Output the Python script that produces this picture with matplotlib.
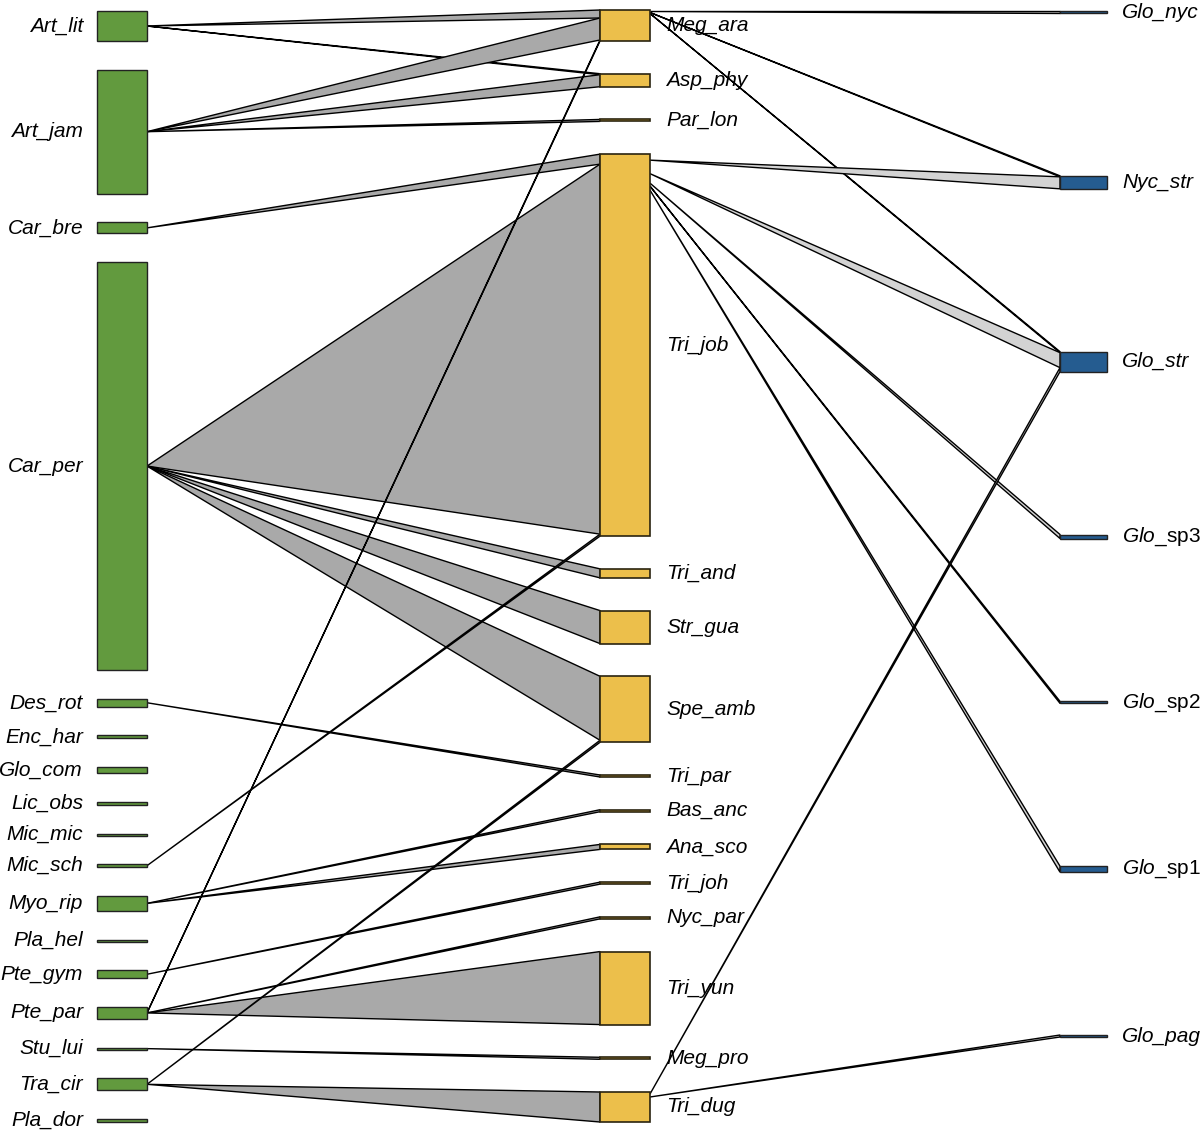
import matplotlib
matplotlib.use("Agg")

import matplotlib.pyplot as plt
import numpy as np
from matplotlib.patches import Polygon, Rectangle

# --- Fonts ---
plt.rcParams['font.family'] = ['Liberation Sans', 'DejaVu Sans']
plt.rcParams['mathtext.fontset'] = 'custom'
plt.rcParams['mathtext.rm'] = 'Liberation Sans'
plt.rcParams['mathtext.it'] = 'Liberation Sans:italic'
FS_LABEL = 15

# --- Data ---
# lower level (plants), abundance
low_names = ['Art_lit', 'Art_jam', 'Car_bre', 'Car_per', 'Des_rot', 'Enc_har',
             'Glo_com', 'Lic_obs', 'Mic_mic', 'Mic_sch', 'Myo_rip', 'Pla_hel',
             'Pte_gym', 'Pte_par', 'Stu_lui', 'Tra_cir', 'Pla_dor']
low_abun = [30, 124, 11, 408, 8, 3, 6, 3, 2, 3, 15, 2, 8, 12, 2, 12, 3]

# middle level
mid_names = ['Meg_ara', 'Asp_phy', 'Par_lon', 'Tri_job', 'Tri_and', 'Str_gua',
             'Spe_amb', 'Tri_par', 'Bas_anc', 'Ana_sco', 'Tri_joh', 'Nyc_par',
             'Tri_yun', 'Meg_pro', 'Tri_dug']

# upper level
top_names = ['Glo_nyc', 'Nyc_str', 'Glo_str', 'Glo_sp3', 'Glo_sp2', 'Glo_sp1', 'Glo_pag']
top_labels = ['Glo_nyc', 'Nyc_str', 'Glo_str',
              r'$\mathit{Glo}$_sp3', r'$\mathit{Glo}$_sp2', r'$\mathit{Glo}$_sp1', 'Glo_pag']
top_italic = [True, True, True, False, False, False, True]

# lower -> middle interactions
lm_src = ['Art_lit', 'Art_lit', 'Art_jam', 'Art_jam', 'Art_jam', 'Car_bre',
          'Car_per', 'Car_per', 'Car_per', 'Car_per', 'Des_rot', 'Mic_sch',
          'Myo_rip', 'Myo_rip', 'Pte_gym', 'Pte_par', 'Pte_par', 'Pte_par',
          'Stu_lui', 'Tra_cir', 'Tra_cir']
lm_dst = ['Meg_ara', 'Asp_phy', 'Meg_ara', 'Asp_phy', 'Par_lon', 'Tri_job',
          'Tri_job', 'Tri_and', 'Str_gua', 'Spe_amb', 'Tri_par', 'Tri_job',
          'Bas_anc', 'Ana_sco', 'Tri_joh', 'Meg_ara', 'Nyc_par', 'Tri_yun',
          'Meg_pro', 'Spe_amb', 'Tri_dug']
lm_w = [8, 1, 22, 12, 2, 10, 370, 9, 33, 64, 2, 2, 2, 5, 2, 1, 2, 73, 2, 2, 30]

# middle -> upper interactions
mt_src = ['Meg_ara', 'Meg_ara', 'Meg_ara', 'Tri_job', 'Tri_job', 'Tri_job',
          'Tri_job', 'Tri_job', 'Tri_dug', 'Tri_dug']
mt_dst = ['Glo_nyc', 'Nyc_str', 'Glo_str', 'Nyc_str', 'Glo_str', 'Glo_sp3',
          'Glo_sp2', 'Glo_sp1', 'Glo_str', 'Glo_pag']
mt_w = [2, 1, 1, 12, 15, 4, 2, 6, 4, 2]

# --- Colours / layout ---
C_LOW = '#629a3e'
C_MID = '#ecbf4b'
C_TOP = '#255c90'
C_LINK_LOW = '#a9a9a9'
C_LINK_TOP = '#d3d3d3'

X_LOW, X_MID, X_TOP = 97, 600, 1060
BOX_W = 50


def totals(names, dst, w):
    out = dict.fromkeys(names, 0.0)
    for d, v in zip(dst, w):
        out[d] += v
    return [out[n] for n in names]


def stack(sizes, top, bottom):
    sizes = np.asarray(sizes, float)
    gap = (bottom - top - sizes.sum()) / (len(sizes) - 1)
    return top + np.concatenate([[0], np.cumsum(sizes[:-1] + gap)])


mid_abun = totals(mid_names, lm_dst, lm_w)
top_abun = totals(top_names, mt_dst, mt_w)

low_y = dict(zip(low_names, stack(low_abun, 11, 1122)))
mid_y = dict(zip(mid_names, stack(mid_abun, 10, 1122)))
top_y = dict(zip(top_names, stack(top_abun, 11, 1037)))
low_h = dict(zip(low_names, low_abun))

fig = plt.figure(figsize=(12, 11.34), dpi=100)
ax = fig.add_axes([0, 0, 1, 1])
ax.set_xlim(0, 1200)
ax.set_ylim(1134, 0)
ax.axis('off')

# lower -> middle links: from box centre to stacked slot in middle box
fill = dict.fromkeys(mid_names, 0.0)
for s, d, v in zip(lm_src, lm_dst, lm_w):
    ys = low_y[s] + low_h[s] / 2
    y0 = mid_y[d] + fill[d]
    fill[d] += v
    poly = Polygon([(X_LOW + BOX_W, ys), (X_MID, y0), (X_MID, y0 + v), (X_LOW + BOX_W, ys)],
                   closed=True, facecolor=C_LINK_LOW, edgecolor='black', lw=1.0)
    ax.add_patch(poly)

# middle -> upper links: from stacked point on middle box to stacked slot in upper box
out_fill = dict.fromkeys(mid_names, 0.0)
in_fill = dict.fromkeys(top_names, 0.0)
for s, d, v in zip(mt_src, mt_dst, mt_w):
    ys = mid_y[s] + out_fill[s] + v / 2
    out_fill[s] += v
    y0 = top_y[d] + in_fill[d]
    in_fill[d] += v
    poly = Polygon([(X_MID + BOX_W, ys), (X_TOP, y0), (X_TOP, y0 + v), (X_MID + BOX_W, ys)],
                   closed=True, facecolor=C_LINK_TOP, edgecolor='black', lw=1.0)
    ax.add_patch(poly)

# boxes and labels
for n, h in zip(low_names, low_abun):
    ax.add_patch(Rectangle((X_LOW, low_y[n]), BOX_W, h, facecolor=C_LOW,
                           edgecolor='#222222', lw=1.0))
    ax.text(83, low_y[n] + h / 2, n, ha='right', va='center',
            fontsize=FS_LABEL, fontstyle='italic')

for n, h in zip(mid_names, mid_abun):
    ax.add_patch(Rectangle((X_MID, mid_y[n]), BOX_W, h, facecolor=C_MID,
                           edgecolor='#2a2410', lw=1.2))
    ax.text(666, mid_y[n] + h / 2, n, ha='left', va='center',
            fontsize=FS_LABEL, fontstyle='italic')

for n, lab, it, h in zip(top_names, top_labels, top_italic, top_abun):
    ax.add_patch(Rectangle((X_TOP, top_y[n]), 47, h, facecolor=C_TOP,
                           edgecolor='#222222', lw=1.0))
    ax.text(1122, top_y[n] + h / 2, lab, ha='left', va='center',
            fontsize=FS_LABEL, fontstyle='italic' if it else 'normal')

fig.savefig('out.png', dpi=100, facecolor='white')
